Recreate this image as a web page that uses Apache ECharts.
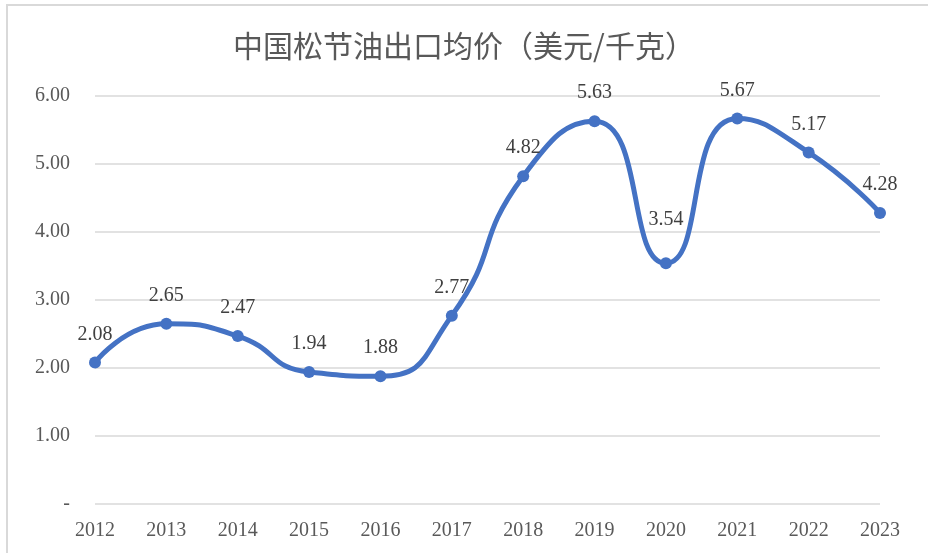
<!DOCTYPE html>
<html lang="zh-CN">
<head>
    <meta charset="UTF-8">
    <title>中国松节油出口均价</title>
    <script src="https://cdn.jsdelivr.net/npm/echarts@6/dist/echarts.min.js"></script>
    <style>
        html, body { margin: 0; padding: 0; background: #fff; }
    </style>
</head>
<body>
    <div id="main" style="width: 928px; height: 557px;"></div>
    <script>
        var years = ['2012', '2013', '2014', '2015', '2016', '2017', '2018', '2019', '2020', '2021', '2022', '2023'];
        var prices = [2.08, 2.65, 2.47, 1.94, 1.88, 2.77, 4.82, 5.63, 3.54, 5.67, 5.17, 4.28];

        var serif = '"Liberation Serif", "DejaVu Serif", serif';
        var myChart = echarts.init(document.getElementById('main'));

        // 2020 label sits a bit higher in the original
        var seriesData = prices.map(function (v, i) {
            if (i === 8) {
                return { value: v, label: { distance: 28 } };
            }
            return v;
        });

        var option = {
            backgroundColor: '#fff',
            animation: false,
            title: {
                text: '中国松节油出口均价（美元/千克）',
                left: 'center',
                top: 26,
                textStyle: {
                    fontFamily: '"Noto Sans CJK SC", sans-serif',
                    fontSize: 30,
                    fontWeight: 'normal',
                    color: '#595959'
                }
            },
            graphic: [
                {
                    type: 'line',
                    shape: { x1: 7, y1: 5, x2: 928, y2: 5 },
                    style: { stroke: '#d9d9d9', lineWidth: 2 }
                }, {
                    type: 'line',
                    shape: { x1: 7, y1: 4, x2: 7, y2: 553 },
                    style: { stroke: '#d9d9d9', lineWidth: 2 }
                }
            ],
            grid: {
                left: 95,
                right: 48,
                top: 96,
                bottom: 53
            },
            xAxis: {
                type: 'category',
                data: years,
                boundaryGap: false,
                axisLine: { show: false },
                axisTick: { show: false },
                axisLabel: {
                    margin: 17,
                    color: '#595959',
                    fontFamily: serif,
                    fontSize: 20
                }
            },
            yAxis: {
                type: 'value',
                min: 0,
                max: 6,
                interval: 1,
                axisLine: { show: false },
                axisTick: { show: false },
                splitLine: { lineStyle: { color: '#d9d9d9', width: 1.5 } },
                axisLabel: {
                    margin: 25,
                    color: '#595959',
                    fontFamily: serif,
                    fontSize: 20,
                    formatter: function (v) {
                        return v === 0 ? '-' : v.toFixed(2);
                    }
                }
            },
            series: [
                {
                    name: '均价',
                    type: 'line',
                    data: seriesData,
                    smooth: 0.55,
                    symbol: 'circle',
                    symbolSize: 12,
                    lineStyle: { color: '#4472C4', width: 5 },
                    itemStyle: { color: '#4472C4' },
                    label: {
                        show: true,
                        position: 'top',
                        distance: 12,
                        color: '#404040',
                        fontFamily: serif,
                        fontSize: 20,
                        formatter: function (p) {
                            return p.value.toFixed(2);
                        }
                    }
                }
            ]
        };

        myChart.setOption(option);
    </script>
</body>
</html>
